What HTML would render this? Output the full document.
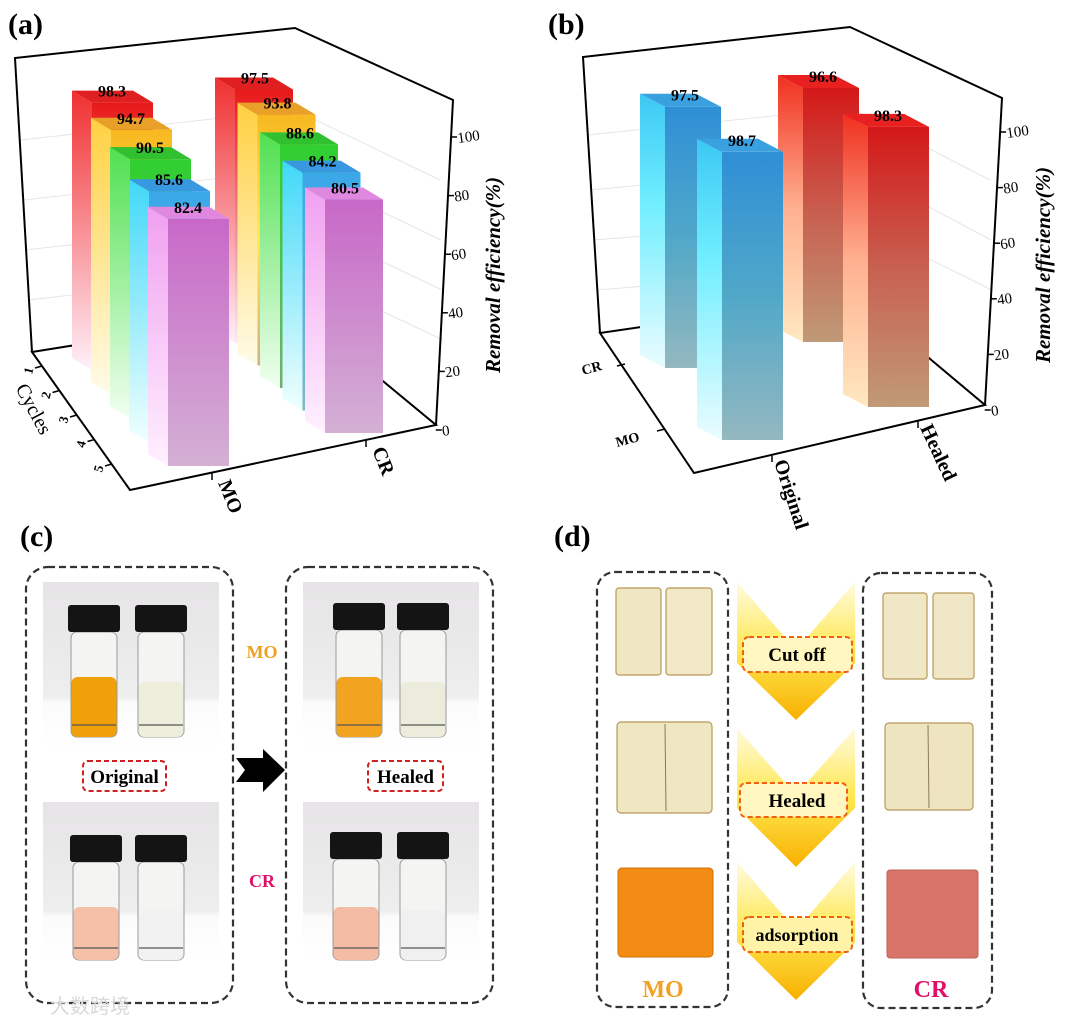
<!DOCTYPE html>
<html><head><meta charset="utf-8">
<style>
html,body{margin:0;padding:0;background:#fff;}
svg{display:block;font-family:"Liberation Serif",serif;}
.t{font-weight:bold;fill:#000;}
</style></head>
<body>
<svg id="fig" width="1080" height="1026" viewBox="0 0 1080 1026" xmlns="http://www.w3.org/2000/svg">
<defs>
 <linearGradient id="gRedF" x1="0" y1="0" x2="0" y2="1"><stop offset="0" stop-color="#e81818"/><stop offset="1" stop-color="#fde8f6"/></linearGradient>
 <linearGradient id="gRedS" x1="0" y1="0" x2="0" y2="1"><stop offset="0" stop-color="#f03030"/><stop offset="1" stop-color="#fff0fa"/></linearGradient>
 <linearGradient id="gYelF" x1="0" y1="0" x2="0" y2="1"><stop offset="0" stop-color="#f8b820"/><stop offset="0.5" stop-color="#ffe850"/><stop offset="1" stop-color="#d0b080"/></linearGradient>
 <linearGradient id="gYelS" x1="0" y1="0" x2="0" y2="1"><stop offset="0" stop-color="#ffd040"/><stop offset="1" stop-color="#fffbe8"/></linearGradient>
 <linearGradient id="gGrnF" x1="0" y1="0" x2="0" y2="1"><stop offset="0" stop-color="#30d030"/><stop offset="1" stop-color="#70b070"/></linearGradient>
 <linearGradient id="gGrnS" x1="0" y1="0" x2="0" y2="1"><stop offset="0" stop-color="#50e050"/><stop offset="1" stop-color="#f0fff0"/></linearGradient>
 <linearGradient id="gBluF" x1="0" y1="0" x2="0" y2="1"><stop offset="0" stop-color="#3aa8e8"/><stop offset="1" stop-color="#80b8c8"/></linearGradient>
 <linearGradient id="gBluS" x1="0" y1="0" x2="0" y2="1"><stop offset="0" stop-color="#40d8f8"/><stop offset="1" stop-color="#f0ffff"/></linearGradient>
 <linearGradient id="gPnkF" x1="0" y1="0" x2="0" y2="1"><stop offset="0" stop-color="#c868c8"/><stop offset="1" stop-color="#d4b0d4"/></linearGradient>
 <linearGradient id="gPnkS" x1="0" y1="0" x2="0" y2="1"><stop offset="0" stop-color="#f0a0f0"/><stop offset="1" stop-color="#fff0ff"/></linearGradient>
 <linearGradient id="gBF" x1="0" y1="0" x2="0" y2="1"><stop offset="0" stop-color="#2f8fd6"/><stop offset="0.5" stop-color="#50a8c8"/><stop offset="1" stop-color="#94b8c0"/></linearGradient>
 <linearGradient id="gBS" x1="0" y1="0" x2="0" y2="1"><stop offset="0" stop-color="#3cc8f4"/><stop offset="0.4" stop-color="#70eeff"/><stop offset="1" stop-color="#eafcff"/></linearGradient>
 <linearGradient id="gRF" x1="0" y1="0" x2="0" y2="1"><stop offset="0" stop-color="#d41818"/><stop offset="0.5" stop-color="#c86050"/><stop offset="1" stop-color="#c09a78"/></linearGradient>
 <linearGradient id="gRS" x1="0" y1="0" x2="0" y2="1"><stop offset="0" stop-color="#f03020"/><stop offset="0.5" stop-color="#ffb090"/><stop offset="1" stop-color="#ffe8c0"/></linearGradient>
 <linearGradient id="gChev" x1="0" y1="0" x2="0" y2="1"><stop offset="0" stop-color="#fffbe0"/><stop offset="0.5" stop-color="#ffe850"/><stop offset="1" stop-color="#f8b000"/></linearGradient>
 <linearGradient id="gPhoto" x1="0" y1="0" x2="0" y2="1"><stop offset="0" stop-color="#e6e4e6"/><stop offset="0.68" stop-color="#eeeeee"/><stop offset="0.72" stop-color="#fbfbfb"/><stop offset="1" stop-color="#ffffff"/></linearGradient>
</defs>

<g id="panelA">
 <text class="t" x="8" y="34" font-size="30">(a)</text>
 <g stroke="#e6e6e6" stroke-width="1" fill="none">
  <line x1="20" y1="140" x2="295" y2="110"/><line x1="23" y1="200" x2="295" y2="170"/><line x1="25" y1="250" x2="295" y2="220"/><line x1="28" y1="300" x2="295" y2="270"/>
  <line x1="295" y1="110" x2="440" y2="180"/><line x1="295" y1="170" x2="441" y2="240"/><line x1="295" y1="220" x2="442" y2="290"/><line x1="295" y1="270" x2="443" y2="340"/>
 </g>
 <g stroke="#000" stroke-width="2" fill="none">
  <polyline points="32,352 15,58 295,28 453,100 436,425"/>
  <polyline points="82,344 32,352 130,490 436,425 378,377"/>
 </g>
 <g id="barsA"></g>
 <g id="ticksA"></g>
 <text class="t" font-size="21" font-style="italic" transform="translate(500,275) rotate(-90)" text-anchor="middle">Removal efficiency(%)</text>
 <g id="cycTicks"></g>
 <text class="t" font-size="20" transform="translate(28,412) rotate(62)" text-anchor="middle" style="font-weight:normal">Cycles</text>
 <g stroke="#000" stroke-width="1.5"><line x1="212" y1="473" x2="212" y2="480"/><line x1="366" y1="440" x2="366" y2="447"/></g>
 <text class="t" font-size="20" transform="translate(218,483) rotate(68)">MO</text>
 <text class="t" font-size="20" transform="translate(372,450) rotate(68)">CR</text>
</g>

<g id="panelB">
 <text class="t" x="548" y="34" font-size="30">(b)</text>
 <g stroke="#e6e6e6" stroke-width="1" fill="none">
  <line x1="588" y1="135" x2="850" y2="108"/><line x1="590" y1="190" x2="850" y2="165"/><line x1="593" y1="240" x2="850" y2="220"/><line x1="596" y1="290" x2="850" y2="270"/>
  <line x1="850" y1="108" x2="990" y2="180"/><line x1="850" y1="165" x2="991" y2="240"/><line x1="850" y1="220" x2="992" y2="290"/>
 </g>
 <g stroke="#000" stroke-width="2" fill="none">
  <polyline points="600,333 583,57 850,27 1002,98 985,405"/>
  <polyline points="648,326 600,333 694,473 985,405 923,353"/>
 </g>
 <g id="barsB"></g>
 <g id="ticksB"></g>
 <text class="t" font-size="21" font-style="italic" transform="translate(1050,265) rotate(-90)" text-anchor="middle">Removal efficiency(%)</text>
 <g stroke="#000" stroke-width="1.5"><line x1="617" y1="366" x2="625" y2="364"/><line x1="657" y1="431" x2="665" y2="429"/><line x1="772" y1="455" x2="772" y2="462"/><line x1="918" y1="421" x2="918" y2="428"/></g>
 <text class="t" font-size="14" transform="translate(583,375) rotate(-15)">CR</text>
 <text class="t" font-size="14" transform="translate(617,447) rotate(-15)">MO</text>
 <text class="t" font-size="20" transform="translate(774,462) rotate(72)">Original</text>
 <text class="t" font-size="20" transform="translate(920,428) rotate(65)">Healed</text>
</g>

<g id="panelC">
 <text class="t" x="20" y="546" font-size="30">(c)</text>
 <rect x="26" y="567" width="207" height="436" rx="22" fill="none" stroke="#333" stroke-width="2.2" stroke-dasharray="7,4"/>
 <rect x="286" y="567" width="207" height="436" rx="22" fill="none" stroke="#333" stroke-width="2.2" stroke-dasharray="7,4"/>
 <rect x="43" y="582" width="176" height="168" fill="url(#gPhoto)"/>
 <rect x="303" y="582" width="176" height="168" fill="url(#gPhoto)"/>
 <rect x="43" y="802" width="176" height="160" fill="url(#gPhoto)"/>
 <rect x="303" y="802" width="176" height="160" fill="url(#gPhoto)"/>
 <g id="vials"></g>
 <rect x="83" y="761" width="83" height="30" rx="5" fill="none" stroke="#d02020" stroke-width="2" stroke-dasharray="5,3"/>
 <text class="t" x="124.5" y="783" font-size="19" text-anchor="middle">Original</text>
 <rect x="368" y="761" width="75" height="30" rx="5" fill="none" stroke="#d02020" stroke-width="2" stroke-dasharray="5,3"/>
 <text class="t" x="405.5" y="783" font-size="19" text-anchor="middle">Healed</text>
 <polygon points="236,758 263,758 263,749 285,770 263,792 263,782 236,782 245,770" fill="#000"/>
 <text class="t" x="262" y="658" font-size="18" text-anchor="middle" style="fill:#f0a020">MO</text>
 <text class="t" x="262" y="887" font-size="18" text-anchor="middle" style="fill:#e01068">CR</text>
 <text x="50" y="1013" font-size="20" fill="#d8d8d8" font-family="'Liberation Sans','Noto Sans CJK SC',sans-serif">大数跨境</text>
</g>

<g id="panelD">
 <text class="t" x="554" y="546" font-size="30">(d)</text>
 <rect x="597" y="572" width="131" height="435" rx="18" fill="none" stroke="#333" stroke-width="2.2" stroke-dasharray="7,4"/>
 <rect x="863" y="573" width="129" height="435" rx="18" fill="none" stroke="#333" stroke-width="2.2" stroke-dasharray="7,4"/>
 <polygon points="737,582 796,650 855,582 855,663 796,720 737,663" fill="url(#gChev)"/>
 <polygon points="737,728 796,795 855,728 855,808 796,867 737,808" fill="url(#gChev)"/>
 <polygon points="737,862 796,930 855,862 855,942 796,1000 737,942" fill="url(#gChev)"/>
 <rect x="743" y="637" width="109" height="35" rx="6" fill="#fff6c0" stroke="#f06010" stroke-width="2" stroke-dasharray="5,3"/>
 <text class="t" x="797" y="661" font-size="19" text-anchor="middle">Cut off</text>
 <rect x="740" y="783" width="107" height="34" rx="6" fill="#fff6c0" stroke="#f06010" stroke-width="2" stroke-dasharray="5,3"/>
 <text class="t" x="797" y="807" font-size="19" text-anchor="middle">Healed</text>
 <rect x="743" y="917" width="109" height="35" rx="6" fill="#fff3a8" stroke="#f06010" stroke-width="2" stroke-dasharray="5,3"/>
 <text class="t" x="797" y="941" font-size="18" text-anchor="middle">adsorption</text>
 <g stroke="#b89858" stroke-width="1.2">
  <rect x="616" y="588" width="45" height="87" rx="3" fill="#efe6c2"/>
  <rect x="666" y="588" width="46" height="87" rx="3" fill="#f0e8c6"/>
  <rect x="617" y="722" width="95" height="91" rx="4" fill="#efe6c2"/>
  <rect x="883" y="593" width="44" height="86" rx="3" fill="#efe7c6"/>
  <rect x="933" y="593" width="41" height="86" rx="3" fill="#efe7c6"/>
  <rect x="885" y="723" width="88" height="87" rx="4" fill="#eee4bf"/>
 </g>
 <line x1="665" y1="724" x2="666" y2="811" stroke="#8a7a5a" stroke-width="1"/>
 <line x1="928" y1="725" x2="929" y2="808" stroke="#8a7a5a" stroke-width="1"/>
 <rect x="618" y="868" width="95" height="89" rx="4" fill="#f28c14" stroke="#d07008"/>
 <rect x="887" y="870" width="91" height="88" rx="3" fill="#d87468" stroke="#c06058"/>
 <text class="t" x="663" y="997" font-size="24" text-anchor="middle" style="fill:#f4a020">MO</text>
 <text class="t" x="931" y="997" font-size="24" text-anchor="middle" style="fill:#e01068">CR</text>
</g>
</svg>

<script>
// ---- Chart (a) data ----
const cyclesA = ["1", "2", "3", "4", "5"];
const dyesA = ["MO", "CR"];
const moValues = [98.3, 94.7, 90.5, 85.6, 82.4];
const crValues = [97.5, 93.8, 88.6, 84.2, 80.5];
const zTicks = [0, 20, 40, 60, 80, 100];
// ---- Chart (b) data ----
const conditionsB = ["Original", "Healed"];
const dyesB = ["CR", "MO"];
const crValuesB = [97.5, 96.6];
const moValuesB = [98.7, 98.3];

const NS = "http://www.w3.org/2000/svg";
function mk(tag, attrs, parent) {
  const e = document.createElementNS(NS, tag);
  for (const k in attrs) e.setAttribute(k, attrs[k]);
  parent.appendChild(e);
  return e;
}
function posA(g, c) {
  if (g === 0) return {fl: 92 + 19 * c, w: 61, bottom: 370 + 24 * c, scale: 2.72 + 0.07 * c};
  return {fl: 235 + 22.5 * c, w: 58, bottom: 343 + 22.5 * c, scale: 2.6 + 0.075 * c};
}
function zA(v) { return 430 - v * 2.93; }
const fillsA = [["gRedF","gRedS","#e02020"],["gYelF","gYelS","#e8a028"],["gGrnF","gGrnS","#30c030"],["gBluF","gBluS","#3898e0"],["gPnkF","gPnkS","#e088e0"]];

function drawBar(parent, p, v, f, dx, dy, name) {
  const g = mk("g", {}, parent);
  
  
  const ty = p.bottom - v * p.scale;
  const fl = p.fl, fr = p.fl + p.w, b = p.bottom;
  mk("polygon", {points: `${fl},${ty} ${fl+dx},${ty+dy} ${fl+dx},${b+dy} ${fl},${b}`, fill: `url(#${f[1]})`}, g);
  mk("rect", {x: fl, y: ty, width: p.w, height: b - ty, fill: `url(#${f[0]})`}, g);
  mk("polygon", {points: `${fl},${ty} ${fr},${ty} ${fr+dx},${ty+dy} ${fl+dx},${ty+dy}`, fill: f[2]}, g);
  const t = mk("text", {x: fl + 20, y: ty - 6, "font-size": 16, "text-anchor": "middle", "class": "t"}, g);
  
  
  t.textContent = v.toFixed(1);
}

const barsA = document.getElementById("barsA");
for (let c = 0; c < cyclesA.length; c++) {
  drawBar(barsA, posA(0, c), moValues[c], fillsA[c], -20, -12, "bar-mo-cycle-" + cyclesA[c]);
  drawBar(barsA, posA(1, c), crValues[c], fillsA[c], -20, -12, "bar-cr-cycle-" + cyclesA[c]);
}
const ticksA = document.getElementById("ticksA");
zTicks.forEach(v => {
  const y = zA(v), x = 436 + (425 - y) * 17 / 325;
  mk("line", {x1: x, y1: y, x2: x + 6, y2: y, stroke: "#000", "stroke-width": 1.5}, ticksA);
  const t = mk("text", {x: x + 7, y: y + 6, "font-size": 15, transform: `rotate(-8 ${x+7} ${y+6})`}, ticksA);
  
  
  t.textContent = v;
});
const cycTicks = document.getElementById("cycTicks");
cyclesA.forEach((lab, i) => {
  const x = 42 + i * 17.5, y = 366 + i * 24.5;
  mk("line", {x1: x, y1: y, x2: x - 7, y2: y + 2, stroke: "#000", "stroke-width": 1.5}, cycTicks);
  const t = mk("text", {x: x - 17, y: y + 8, "font-size": 13, "font-weight": "bold", transform: `rotate(-75 ${x-13} ${y+4})`}, cycTicks);
  
  
  t.textContent = lab;
});

function posB(k, r) {
  return {fl: 665 + 138 * k + 57 * r + 8 * k * r, w: 56 + 5 * r, bottom: 368 - 26 * k + 72 * r - 7 * k * r, scale: 2.68 - 0.05 * k + 0.24 * r - 0.02 * k * r};
}
function zB(v) { return 410 - v * 2.78; }
const barsB = document.getElementById("barsB");
const fillsB = [["gBF","gBS","#3aa0e0"],["gRF","gRS","#e82020"]];
const rowsB = [crValuesB, moValuesB];
for (let r = 0; r < dyesB.length; r++) {
  for (let k = 0; k < conditionsB.length; k++) {
    drawBar(barsB, posB(k, r), rowsB[r][k], fillsB[k], -25, -13, "bar-" + dyesB[r].toLowerCase() + "-" + conditionsB[k].toLowerCase());
  }
}
const ticksB = document.getElementById("ticksB");
zTicks.forEach(v => {
  const y = zB(v), x = 985 + (405 - y) * 17 / 307;
  mk("line", {x1: x, y1: y, x2: x + 6, y2: y, stroke: "#000", "stroke-width": 1.5}, ticksB);
  const t = mk("text", {x: x + 7, y: y + 6, "font-size": 15, transform: `rotate(-8 ${x+7} ${y+6})`}, ticksB);
  
  
  t.textContent = v;
});

const vials = document.getElementById("vials");
function vial(x, capY, bodyBottom, liquidTop, color, name) {
  const g = mk("g", {}, vials);
  
  
  mk("rect", {x: x + 3, y: capY + 27, width: 46, height: bodyBottom - capY - 27, rx: 6, fill: "#f4f4f2", stroke: "#9a9a9a", "stroke-width": 1}, g);
  mk("rect", {x: x + 3.5, y: liquidTop, width: 45, height: bodyBottom - liquidTop, rx: 6, fill: color}, g);
  mk("line", {x1: x + 4, y1: bodyBottom - 12, x2: x + 48, y2: bodyBottom - 12, stroke: "#555", "stroke-width": 1.2}, g);
  mk("rect", {x: x, y: capY, width: 52, height: 27, rx: 3, fill: "#141414"}, g);
}
vial(68, 605, 737, 677, "#f0a008", "vial-mo-original");
vial(135, 605, 737, 682, "#eeeedc", "vial-mo-treated-original");
vial(333, 603, 737, 677, "#f2a420", "vial-mo-healed");
vial(397, 603, 737, 682, "#ececdc", "vial-mo-treated-healed");
vial(70, 835, 960, 907, "#f4c0a8", "vial-cr-original");
vial(135, 835, 960, 910, "#f2f2f2", "vial-cr-treated-original");
vial(330, 832, 960, 907, "#f4bca4", "vial-cr-healed");
vial(397, 832, 960, 910, "#f0f0f0", "vial-cr-treated-healed");
</script>
</body></html>
